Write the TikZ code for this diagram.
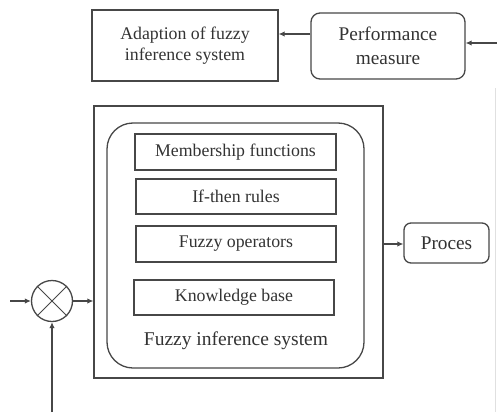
\documentclass[tikz,border=0pt]{standalone}
\usepackage{fontspec}
\setmainfont{Liberation Serif}
\usetikzlibrary{arrows.meta,calc}
\begin{document}
\begin{tikzpicture}[x=1pt,y=-1pt,
  ln/.style={draw=black!72,line width=1.3pt},
  arr/.style={ln,-{Latex[length=6pt,width=5.5pt]}},
  sqbox/.style={ln,rectangle,inner sep=0pt,align=center,font=\fontsize{17.8}{21}\selectfont,text=black!80},
  rbox/.style={sqbox,rounded corners=9pt,font=\fontsize{19.3}{24}\selectfont},
  txt/.style={font=\fontsize{19.5}{23}\selectfont,text=black!80}
]
\useasboundingbox (0,0) rectangle (497,412);
\fill[white] (0,0) rectangle (497,412);
% top row
\node[sqbox,minimum width=186pt,minimum height=71pt] (adapt) at (185,45.5) {Adaption of fuzzy\\inference system};
\node[rbox,minimum width=154pt,minimum height=66pt] (perf) at (388,46) {Performance\\measure};
\coordinate (y34) at (0,34);
\coordinate (rin) at (497,43);
\draw[arr] (perf.west|-y34) -- (adapt.east|-y34);
\draw[arr] (rin) -- (perf.east|-rin);
\draw[draw=black!12,line width=1pt] (495,88) -- (495,412);
% fuzzy inference system
\node[ln,rectangle,minimum width=289pt,minimum height=272pt] (outer) at (238.5,242) {};
\node[ln,rectangle,rounded corners=26pt,minimum width=257pt,minimum height=245pt] (fis) at (235.5,245.5) {};
\node[sqbox,minimum width=201pt,minimum height=36pt] (mf) at (235.5,152) {Membership functions};
\node[sqbox,minimum width=200pt,minimum height=35pt] (ift) at (236,196.5) {If-then rules};
\node[sqbox,minimum width=200pt,minimum height=36pt] (fo) at (236,244) {Fuzzy operators};
\node[sqbox,minimum width=200pt,minimum height=35pt] (kb) at (234,297.5) {Knowledge base};
\node[txt] (lbl) at (236,341) {Fuzzy inference system};
% process
\node[rbox,rounded corners=7pt,minimum width=85pt,minimum height=40pt] (proc) at (446.5,243) {Proces};
\coordinate (y244) at (0,244);
\draw[arr] (outer.east|-y244) -- (proc.west|-y244);
% summing junction
\node[ln,circle,minimum size=41pt,inner sep=0pt] (sum) at (52,301) {};
\draw[draw=black!72,line width=1pt] (sum.north west) -- (sum.south east) (sum.north east) -- (sum.south west);
\coordinate (lin) at (10,301);
\coordinate (bin) at (52,412);
\draw[arr] (lin) -- (sum.west);
\draw[arr] (sum.east) -- (outer.west|-sum.east);
\draw[arr] (bin) -- (sum.south);
\end{tikzpicture}
\end{document}
